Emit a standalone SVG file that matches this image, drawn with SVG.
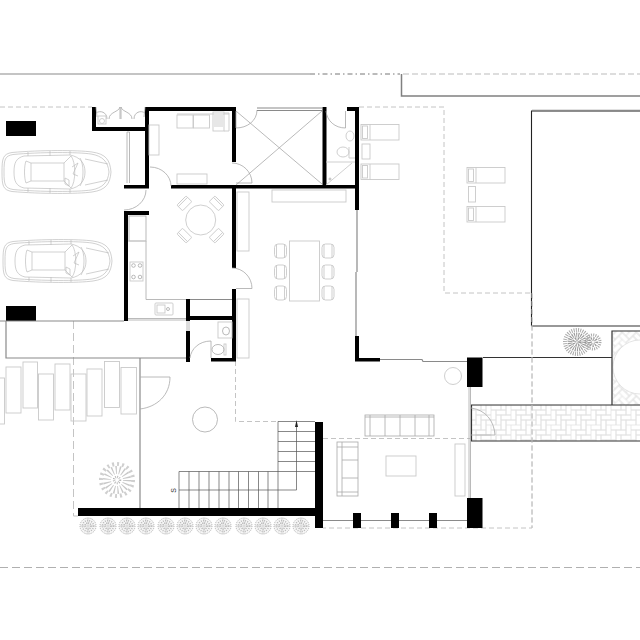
<svg xmlns="http://www.w3.org/2000/svg" xmlns:xlink="http://www.w3.org/1999/xlink" width="640" height="640" viewBox="0 0 640 640">
<style>
.w{fill:#000}
.f{fill:none;stroke:#c9c9c9;stroke-width:.9}
.m{fill:none;stroke:#a8a8a8;stroke-width:.8}
.g{fill:none;stroke:#8a8a8a;stroke-width:1.200}
.d{fill:none;stroke:#333;stroke-width:1.200}
.s{fill:none;stroke:#555;stroke-width:.7}
.da{fill:none;stroke:#c4c4c4;stroke-width:1;stroke-dasharray:5 3}
.car{fill:none;stroke:#bdbdbd;stroke-width:.7}
.b{fill:none;stroke:#e0e0e0;stroke-width:.7}
</style>
<defs>
<g id="tile">
<rect class="b" x="0" y="0" width="10" height="5"/><rect class="b" x="5" y="5" width="10" height="5"/><rect class="b" x="10" y="10" width="10" height="5"/><rect class="b" x="15" y="15" width="10" height="5"/><rect class="b" x="-5" y="15" width="10" height="5"/>
<rect class="b" x="0" y="5" width="5" height="10"/><rect class="b" x="5" y="10" width="5" height="10"/><rect class="b" x="10" y="15" width="5" height="10"/><rect class="b" x="10" y="-5" width="5" height="10"/><rect class="b" x="15" y="0" width="5" height="10"/>
</g>
<pattern id="brick" width="20" height="20" patternUnits="userSpaceOnUse" x="471" y="405"><use xlink:href="#tile" href="#tile"/></pattern>
<pattern id="brick2" width="20" height="20" patternUnits="userSpaceOnUse" patternTransform="rotate(45)"><use xlink:href="#tile" href="#tile"/></pattern>
<g id="car">
<path class="car" d="M2 22C2 8 3 4 12 2.500C40 0 78 0 92 2C106 4 110 10 111 22C110 34 106 40 92 42C78 44 40 44 12 41.500C3 40 2 36 2 22Z"/>
<path class="car" d="M4 22C4 9 5 6 13 4.500C40 2 78 2 91 4C103 6 108 12 109 22C108 32 103 38 91 40C78 42 40 42 13 39.500C5 38 4 35 4 22Z"/>
<path class="car" d="M14 22C14 13 16 8 24 6L70 5C80 7 85 13 85 22C85 31 80 37 70 39L24 38C16 36 14 31 14 22Z"/>
<path class="car" d="M26 11L31 13V31L26 33C24 28 24 16 26 11ZM31 13H64M31 31H64M64 13L71 6M64 31L71 38M64 13V31M71 6C76 12 76 32 71 38M80 8C84 14 84 30 80 36"/>
<path class="car" d="M85 9L108 14M85 35L108 30M28 2V6M50 1V6M50 38V43M28 38V42M70 1V5M70 39V43"/>
<path class="car" d="M65 28L69 30V36L65 34ZM72 17L78 13L73 24L78 26"/>
</g>
<g id="chair"><rect class="f" x="-6" y="-7" width="12" height="14" rx="3.500"/><path class="f" d="M-4 -7V7M4 -7V7"/></g>
<g id="plant">
<circle r="8.200" fill="#f6f6f6"/>
<circle r="8" fill="none" stroke="#b0b0b0" stroke-width="1" stroke-dasharray="1 1"/>
<circle r="5.500" fill="none" stroke="#bbb" stroke-width="1.600" stroke-dasharray="1 1.200"/>
<circle r="3" fill="none" stroke="#b0b0b0" stroke-width="1.500" stroke-dasharray="1 1"/>
<path d="M0 -8V8M-8 0H8" stroke="#bbb" stroke-width=".5"/>
</g>
<g id="lounger">
<rect class="f" width="38" height="15.500"/>
<rect class="f" x="1.500" y="1.500" width="5" height="12.500"/>
<path class="f" d="M9 0V15.500"/>
</g>
<g id="dchair"><rect class="f" x="-6.500" y="-3.500" width="13" height="8" rx="1"/><path class="f" d="M-6.500 -1.500H6.500"/></g>
</defs>

<g id="site-lines">
<path class="g" d="M0 74H310"/>
<path d="M310 74H400" fill="none" stroke="#777" stroke-width="1" stroke-dasharray="5 3 1.500 3"/>
<path d="M403 74H640" fill="none" stroke="#bbb" stroke-width="1" stroke-dasharray="6 3"/>
<path d="M401.500 74V96H640" fill="none" stroke="#808080" stroke-width="1.500"/>
<path class="da" d="M0 107H92"/>
<path class="da" d="M359 107H444V293H532V528H323"/>
<path class="da" d="M323 438.500H470"/>
<path class="da" d="M235.500 361V421.500H278"/>
<path d="M73.500 321V516H78" fill="none" stroke="#c4c4c4" stroke-width="1" stroke-dasharray="8 4"/>
<path d="M0 567.500H640" fill="none" stroke="#b0b0b0" stroke-width="1" stroke-dasharray="8 4"/>
</g>

<g id="house-right">
<path d="M531.500 326V111H640" fill="none" stroke="#222" stroke-width="1.100"/>
<path d="M532 110.500H640" stroke="#888" stroke-width="1.500"/>
<path class="d" d="M531.500 326H640"/>
<rect x="612.500" y="331" width="28" height="74" fill="url(#brick2)"/>
<circle cx="640" cy="367" r="27" fill="#fff" stroke="#ddd" stroke-width=".8"/>
<path class="d" d="M483 357.500H612M612 405V331H640"/>
<rect x="471" y="405" width="170" height="36" fill="url(#brick)"/>
<path class="d" d="M471 405H640M471 441H640M471.500 405V441"/>
<path class="da" d="M532 293V528"/>
</g>

<g id="walls">
<rect class="w" x="92" y="107" width="4" height="24"/>
<rect class="w" x="92" y="127" width="55" height="4"/>
<rect class="w" x="145" y="107" width="4" height="81"/>
<rect class="w" x="145" y="107" width="91" height="4"/>
<rect class="w" x="232" y="107" width="4" height="55"/>
<rect class="w" x="124" y="185" width="25" height="3.500"/>
<rect class="w" x="171" y="185" width="188" height="3.500"/>
<rect class="w" x="232" y="185" width="4" height="83"/>
<rect class="w" x="232" y="289" width="4" height="72"/>
<rect class="w" x="124" y="211" width="25" height="4"/>
<rect class="w" x="124" y="211" width="4" height="110"/>
<rect class="w" x="186" y="299" width="4" height="22"/>
<rect class="w" x="186" y="331" width="4" height="31"/>
<rect class="w" x="186" y="316" width="50" height="4"/>
<rect class="w" x="211" y="358" width="25" height="3.500"/>
<rect class="w" x="322.500" y="107" width="4" height="81"/>
<rect class="w" x="355" y="107" width="4" height="103"/>
<rect class="w" x="347" y="107" width="12" height="4"/>
<rect class="w" x="355" y="336" width="4" height="25"/>
<rect class="w" x="355" y="358" width="25" height="3.500"/>
<rect class="w" x="467" y="357.500" width="15.500" height="29.500"/>
<rect class="w" x="467" y="498" width="15.500" height="30"/>
<rect class="w" x="315" y="422" width="8" height="106"/>
<rect class="w" x="78" y="508" width="245" height="8"/>
<rect class="w" x="353" y="513" width="8" height="15"/>
<rect class="w" x="391" y="513" width="8" height="15"/>
<rect class="w" x="429" y="513" width="8" height="15"/>
<rect class="w" x="6" y="121" width="30" height="15"/>
<rect class="w" x="6" y="306" width="30" height="15"/>
</g>

<g id="openings">
<path class="g" d="M357 210V272M356 272V336"/>
<path class="g" d="M380 359.500H422L423 361.500H467"/>
<path class="m" d="M469 387V498M470.500 387V498"/>
<path class="g" d="M323 520.500H353M361 520.500H391M399 520.500H429M437 520.500H467"/>
<path class="g" d="M0 321H124"/>
<path class="g" d="M6 321V358H186"/>
<path class="m" d="M128 320H186M128 318.500H186"/>
<path class="g" d="M140 358V508"/>
<path class="m" d="M187 321V331M189 321V331"/>
<path class="m" d="M140 377H170" stroke-width="1"/>
<path class="m" d="M170 377C170 395 157 407 140 409"/>
<path class="m" d="M96 107L97 117M145 107L144 117M96 113C100 110 107 112 107 119M145 113C141 110 134 112 134 119M109 119C109 112 119 112 120 107M132 119C132 112 122 112 121 107M120 107V119M121 107V119"/>
<path class="m" d="M127 132V183M129.500 132V183M127 132H129.500"/>
<path class="m" d="M146 190C146 201 136 210 124 210"/>
<path class="m" d="M150 167C162 167 171 176 171 186"/>
<path class="m" d="M257 110C257 121 247 128 236 128L236 111"/>
<path class="g" d="M257 108H322M257 110.500H322"/>
<path class="m" d="M232 163C243 163 252 172 252 183H236"/>
<path class="m" d="M232 268C243 268 252 277 252 288.500H236"/>
<path class="m" d="M345.500 111V128M326 111C327 121 335 128 345.500 128"/>
<path class="m" d="M211 341V358M211 341C199 341 191 349 190 358"/>
<path class="m" d="M471 408C486 410 494 421 495 435H471"/>
<path class="g" d="M190 299.500H232" stroke-width=".7"/>
</g>

<g id="kitchen">
<rect class="f" x="149" y="125" width="10" height="30"/>
<rect class="f" x="177" y="115" width="16" height="13"/>
<rect class="f" x="193.500" y="115" width="16" height="13"/>
<rect class="f" x="213" y="112" width="11" height="19"/>
<path class="f" d="M214 116H223M214 118H223M214 120H223M214 122H223M214 124H223M214 126H223M224 113H229V131H224M177 114H229"/>
<rect class="f" x="177" y="174" width="30" height="10"/>
<circle class="f" cx="200.700" cy="220" r="15"/>
<use xlink:href="#dchair" href="#dchair" transform="translate(184,203) rotate(-45)"/>
<use xlink:href="#dchair" href="#dchair" transform="translate(217,203) rotate(45)"/>
<use xlink:href="#dchair" href="#dchair" transform="translate(184,236) rotate(-135)"/>
<use xlink:href="#dchair" href="#dchair" transform="translate(217,236) rotate(135)"/>
<rect class="m" x="129" y="216" width="17" height="25"/>
<path class="m" d="M146 241V299.500H186"/>
<path class="f" d="M128 241H146"/>
<rect class="f" x="130" y="262" width="13" height="19"/>
<circle class="m" cx="133.500" cy="265.500" r="1.800"/><circle class="m" cx="140" cy="265.500" r="1.800"/><circle class="m" cx="133.500" cy="277" r="1.800"/><circle class="m" cx="140" cy="277" r="1.800"/>
<rect class="f" x="155" y="303" width="18" height="12" rx="1"/>
<rect class="f" x="157" y="305" width="8" height="8"/>
<circle class="m" cx="168" cy="309" r="1.500"/>
<rect class="f" x="98" y="116" width="8" height="8"/><circle class="f" cx="102" cy="121" r="2.500"/>
</g>

<g id="baths">
<rect class="f" x="218" y="322" width="14" height="16"/>
<ellipse class="m" cx="226" cy="331" rx="3.500" ry="4"/>
<rect class="f" x="224" y="344" width="2" height="11"/>
<ellipse class="m" cx="218" cy="349.500" rx="6" ry="5"/>
<ellipse class="f" cx="350" cy="136" rx="4" ry="5"/>
<ellipse class="f" cx="343" cy="152" rx="6" ry="5"/>
<path class="f" d="M349 147V158H355M326 162H355M326 185L352 163"/>
<circle class="m" cx="330" cy="179" r="1"/>
</g>

<g id="living">
<path class="m" d="M236 185L322 111M236 111L322 184"/>
<rect class="f" x="272" y="190" width="74" height="12"/>
<rect class="f" x="237" y="192" width="12" height="59"/>
<rect class="f" x="237" y="299" width="12" height="59"/>
<rect class="f" x="289.500" y="241" width="30" height="60"/>
<use xlink:href="#chair" href="#chair" x="280.500" y="251"/>
<use xlink:href="#chair" href="#chair" x="280.500" y="272"/>
<use xlink:href="#chair" href="#chair" x="280.500" y="293"/>
<use xlink:href="#chair" href="#chair" x="328" y="251"/>
<use xlink:href="#chair" href="#chair" x="328" y="272"/>
<use xlink:href="#chair" href="#chair" x="328" y="293"/>
<circle class="f" cx="453" cy="376" r="8.500"/>
<circle class="m" cx="205" cy="419.500" r="12.500"/>
<rect class="m" x="365" y="415" width="69" height="21"/>
<path class="m" d="M370 415V436M429 415V436M385 415V436M400 415V436M415 415V436M365 417H434"/>
<rect class="m" x="337" y="442" width="21" height="54"/>
<path class="m" d="M342 442V496M337 447H358M337 492H358M342 460H358M342 478H358"/>
<rect class="f" x="386" y="456" width="30" height="20"/>
<rect class="f" x="455" y="444" width="10" height="52"/>
<use xlink:href="#lounger" href="#lounger" x="361" y="124.500"/>
<rect class="f" x="362" y="144" width="8" height="15"/>
<use xlink:href="#lounger" href="#lounger" x="361" y="164"/>
<use xlink:href="#lounger" href="#lounger" x="467" y="167.500"/>
<rect class="f" x="468.500" y="186.500" width="7" height="15.500"/>
<use xlink:href="#lounger" href="#lounger" x="467" y="206.500"/>
</g>

<g id="stairs">
<path class="s" d="M179 471.500H278M179 471.500V508M189 471.500V508M199 471.500V508M209 471.500V508M219 471.500V508M229 471.500V508M238.500 471.500V508M248.500 471.500V508M258.500 471.500V508M268 471.500V508M278 421.500V508"/>
<path class="s" d="M278 421.500H315M278 431.500H315M278 441.500H315M278 451.500H315M278 461.500H315M278 471.500H315"/>
<path class="s" d="M179 490H296.500V424"/>
<path d="M296.500 420L295 427H298Z" fill="#222"/>
<text x="173" y="493" font-family="Liberation Sans, sans-serif" font-size="7" fill="#333" text-anchor="middle" transform="rotate(-90 173 490.500)">S</text>
</g>

<g id="paving">
<rect class="f" x="-2" y="378" width="6.500" height="46"/>
<rect class="f" x="6" y="367" width="15" height="46"/>
<rect class="f" x="23" y="362" width="14.500" height="46"/>
<rect class="f" x="38.500" y="374" width="15" height="46"/>
<rect class="f" x="55" y="364" width="15" height="46"/>
<rect class="f" x="71" y="374" width="15" height="47"/>
<rect class="f" x="87" y="369" width="15" height="47"/>
<rect class="f" x="104.500" y="361.500" width="15" height="46"/>
<rect class="f" x="121" y="367.500" width="15.500" height="46.500"/>
</g>

<g id="cars">
<use xlink:href="#car" href="#car" x="0" y="150"/>
<use xlink:href="#car" href="#car" x="1" y="239"/>
</g>

<g id="plants">
<use xlink:href="#plant" href="#plant" x="88" y="526"/>
<use xlink:href="#plant" href="#plant" x="108" y="526"/>
<use xlink:href="#plant" href="#plant" x="127" y="526"/>
<use xlink:href="#plant" href="#plant" x="146" y="526"/>
<use xlink:href="#plant" href="#plant" x="166" y="526"/>
<use xlink:href="#plant" href="#plant" x="185" y="526"/>
<use xlink:href="#plant" href="#plant" x="204" y="526"/>
<use xlink:href="#plant" href="#plant" x="223" y="526"/>
<use xlink:href="#plant" href="#plant" x="244" y="526"/>
<use xlink:href="#plant" href="#plant" x="263" y="526"/>
<use xlink:href="#plant" href="#plant" x="282" y="526"/>
<use xlink:href="#plant" href="#plant" x="301" y="526"/>
<g transform="translate(117,480)" fill="none">
<circle r="16" stroke="#cfcfcf" stroke-width="4" stroke-dasharray="2 3"/>
<circle r="10" stroke="#c8c8c8" stroke-width="8" stroke-dasharray="1.200 2.300"/>
<circle r="3" stroke="#b0b0b0" stroke-width="2.500" stroke-dasharray=".8 1.200"/>
</g>
<g transform="translate(577,342)" fill="none">
<circle r="12" stroke="#aaa" stroke-width="4" stroke-dasharray="1 1.200"/>
<circle r="7" stroke="#999" stroke-width="5" stroke-dasharray="1 1"/>
<circle r="2.500" stroke="#999" stroke-width="4" stroke-dasharray="1 1"/>
</g>
<g transform="translate(593,342)" fill="none">
<circle r="7" stroke="#aaa" stroke-width="3" stroke-dasharray="1 1.200"/>
<circle r="3" stroke="#999" stroke-width="4" stroke-dasharray="1 1"/>
</g>
</g>
</svg>
